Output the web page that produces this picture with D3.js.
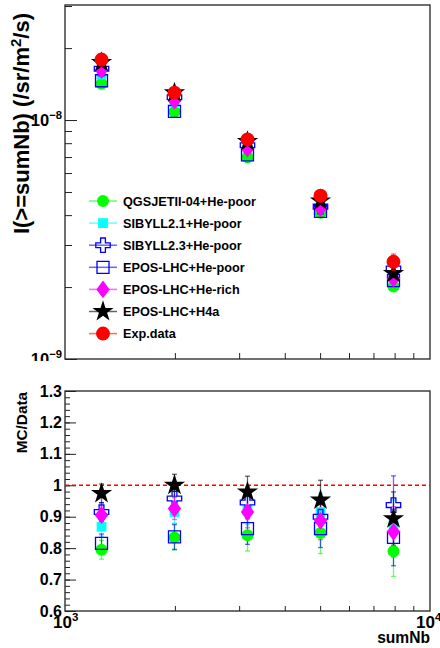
<!DOCTYPE html>
<html>
<head>
<meta charset="utf-8">
<script src="https://cdn.jsdelivr.net/npm/d3@7"></script>
<style>
  body { margin: 0; background: #fff; }
  svg { display: block; font-family: "Liberation Sans", Arial, sans-serif; font-weight: bold; }
</style>
</head>
<body>
<svg id="chart" width="440" height="648"></svg>
<script>
// sumNb bin positions
const xVals = [1259, 1995, 3162, 5012, 7943];

// experimental integral flux
const dataFlux = [1.79e-8, 1.30e-8, 8.3e-9, 4.82e-9, 2.55e-9];
const dataFluxErr = [0.03e-8, 0.03e-8, 0.2e-9, 0.15e-9, 0.2e-9];

// MC series: flux (top) and MC/Data ratio (bottom)
const qgsFlux = [1.42e-8, 1.08e-8, 6.98e-9, 4.09e-9, 2.01e-9];
const qgsRatio = [0.795, 0.834, 0.841, 0.848, 0.79];
const qgsErr = [0.03, 0.04, 0.05, 0.065, 0.08];

const sib21Flux = [1.55e-8, 1.19e-8, 7.64e-9, 4.41e-9, 2.23e-9];
const sib21Ratio = [0.868, 0.915, 0.92, 0.915, 0.873];
const sib21Err = [0.03, 0.035, 0.045, 0.06, 0.08];

const sib23Flux = [1.64e-8, 1.245e-8, 7.84e-9, 4.34e-9, 2.39e-9];
const sib23Ratio = [0.915, 0.958, 0.945, 0.9, 0.937];
const sib23Err = [0.03, 0.035, 0.05, 0.06, 0.093];

const eposPoorFlux = [1.46e-8, 1.087e-8, 7.15e-9, 4.15e-9, 2.13e-9];
const eposPoorRatio = [0.815, 0.836, 0.862, 0.862, 0.834];
const eposPoorErr = [0.03, 0.04, 0.05, 0.06, 0.09];

const eposRichFlux = [1.62e-8, 1.204e-8, 7.59e-9, 4.28e-9, 2.17e-9];
const eposRichRatio = [0.905, 0.926, 0.915, 0.887, 0.852];
const eposRichErr = [0.03, 0.035, 0.05, 0.06, 0.08];

const h4aFlux = [1.743e-8, 1.30e-8, 8.13e-9, 4.59e-9, 2.28e-9];
const h4aRatio = [0.974, 1.0, 0.979, 0.953, 0.894];
const h4aErr = [0.03, 0.035, 0.05, 0.063, 0.085];

const legendLabels = ["QGSJETII-04+He-poor", "SIBYLL2.1+He-poor", "SIBYLL2.3+He-poor",
  "EPOS-LHC+He-poor", "EPOS-LHC+He-rich", "EPOS-LHC+H4a", "Exp.data"];

// ROOT-like filled diamond (wider than d3's)
const diamond = {
  draw(ctx, size) {
    const h = Math.sqrt(size) * 0.95, w = h * 0.75;
    ctx.moveTo(0, -h); ctx.lineTo(w, 0); ctx.lineTo(0, h); ctx.lineTo(-w, 0); ctx.closePath();
  }
};

const series = [
  { name: legendLabels[0], flux: qgsFlux, ratio: qgsRatio, err: qgsErr, color: "#00ff00", type: d3.symbolCircle, size: 113, fill: true },
  { name: legendLabels[1], flux: sib21Flux, ratio: sib21Ratio, err: sib21Err, color: "#00ffff", type: d3.symbolSquare, size: 95, fill: true },
  { name: legendLabels[2], flux: sib23Flux, ratio: sib23Ratio, err: sib23Err, color: "#0000ff", type: d3.symbolCross, size: 115, fill: false },
  { name: legendLabels[3], flux: eposPoorFlux, ratio: eposPoorRatio, err: eposPoorErr, color: "#0000ff", type: d3.symbolSquare, size: 144, fill: false },
  { name: legendLabels[4], flux: eposRichFlux, ratio: eposRichRatio, err: eposRichErr, color: "#ff00ff", type: diamond, size: 88, fill: true },
  { name: legendLabels[5], flux: h4aFlux, ratio: h4aRatio, err: h4aErr, color: "#000000", type: d3.symbolStar, size: 140, fill: true }
];
const dataSeries = { name: legendLabels[6], flux: dataFlux, color: "#ff0000", type: d3.symbolCircle, size: 154, fill: true };

const svg = d3.select("#chart");

const x = d3.scaleLog().domain([1e3, 1e4]).range([65, 430]);
const yTop = d3.scaleLog().domain([1e-9, 3.03e-8]).range([359, 5]);
const yBot = d3.scaleLinear().domain([0.6, 1.3]).range([611, 391]);

svg.append("defs").append("clipPath").attr("id", "topPad")
  .append("rect").attr("x", 0).attr("y", 0).attr("width", 440).attr("height", 361);

const topPad = svg.append("g").attr("clip-path", "url(#topPad)");
const botPad = svg.append("g");

function frame(g, y) {
  g.append("rect")
    .attr("x", x.range()[0]).attr("y", y.range()[1])
    .attr("width", x.range()[1] - x.range()[0])
    .attr("height", y.range()[0] - y.range()[1])
    .attr("fill", "none").attr("stroke", "#222").attr("stroke-width", 1.3);
}

function ticks(g, axis, transform) {
  const a = g.append("g").attr("transform", transform).call(axis);
  a.select(".domain").remove();
  a.selectAll("line").attr("stroke", "#222").attr("stroke-width", 1);
  a.selectAll("text").remove();
}

function logLabel(g, px, py, base, exp, anchor, size) {
  const t = g.append("text").attr("x", px).attr("y", py)
    .attr("text-anchor", anchor).attr("font-size", size);
  t.append("tspan").text(base);
  t.append("tspan").attr("font-size", size * 0.68).attr("dy", -size * 0.42).text(exp);
}

function marker(g, s, px, py) {
  g.append("path")
    .attr("d", d3.symbol().type(s.type).size(s.size)())
    .attr("transform", `translate(${px},${py})`)
    .attr("fill", s.fill ? s.color : "none")
    .attr("stroke", s.color)
    .attr("stroke-width", s.fill ? 0 : 1.3);
}

function errorBar(g, color, px, y0, y1) {
  g.append("line").attr("x1", px).attr("x2", px).attr("y1", y0).attr("y2", y1)
    .attr("stroke", color).attr("stroke-opacity", 0.6).attr("stroke-width", 1.3);
  [y0, y1].forEach(yy => g.append("line")
    .attr("x1", px - 2.5).attr("x2", px + 2.5).attr("y1", yy).attr("y2", yy)
    .attr("stroke", color).attr("stroke-opacity", 0.6).attr("stroke-width", 1.3));
}

// ---------- top pad ----------
const topMinorY = [2e-9, 3e-9, 4e-9, 5e-9, 6e-9, 7e-9, 8e-9, 9e-9, 2e-8, 3e-8];
ticks(topPad, d3.axisLeft(yTop).tickValues(topMinorY).tickSizeInner(-7).tickSizeOuter(0), "translate(65,0)");
ticks(topPad, d3.axisLeft(yTop).tickValues([1e-9, 1e-8]).tickSizeInner(-12).tickSizeOuter(0), "translate(65,0)");
const xMinor = [2e3, 3e3, 4e3, 5e3, 6e3, 7e3, 8e3, 9e3];
ticks(topPad, d3.axisBottom(x).tickValues(xMinor).tickSizeInner(-6).tickSizeOuter(0), "translate(0,359)");
frame(topPad, yTop);

logLabel(topPad, 62, yTop(1e-8) + 6, "10", "\u22128", "end", 16.5);
logLabel(topPad, 62, yTop(1e-9) + 6, "10", "\u22129", "end", 16.5);

const yTitle = topPad.append("text")
  .attr("transform", "translate(29,13) rotate(-90)")
  .attr("text-anchor", "end").attr("font-size", 22);
yTitle.append("tspan").text("I(>=sumNb) (/sr/m");
yTitle.append("tspan").attr("font-size", 15).attr("dy", -8).text("2");
yTitle.append("tspan").attr("dy", 8).text("/s)");

const topMarks = topPad.append("g");
series.forEach(s => {
  s.flux.forEach((v, i) => marker(topMarks, s, x(xVals[i]), yTop(v)));
});
dataSeries.flux.forEach((v, i) => {
  errorBar(topMarks, dataSeries.color, x(xVals[i]), yTop(v + dataFluxErr[i]), yTop(v - dataFluxErr[i]));
  marker(topMarks, dataSeries, x(xVals[i]), yTop(v));
});

// legend
const legend = topPad.append("g");
[...series, dataSeries].forEach((s, i) => {
  const ly = 201 + i * 22.1;
  legend.append("line").attr("x1", 89).attr("x2", 117).attr("y1", ly).attr("y2", ly)
    .attr("stroke", s.color).attr("stroke-opacity", 0.6).attr("stroke-width", 1.5);
  marker(legend, s, 103, ly);
  legend.append("text").attr("x", 123).attr("y", ly + 4.6)
    .attr("font-size", 12.7).text(s.name);
});

// ---------- bottom pad ----------
const botMinorY = d3.range(0.6, 1.3001, 0.02);
const botMajorY = [0.6, 0.7, 0.8, 0.9, 1.0, 1.1, 1.2, 1.3];
ticks(botPad, d3.axisLeft(yBot).tickValues(botMinorY).tickSizeInner(-5).tickSizeOuter(0), "translate(65,0)");
ticks(botPad, d3.axisLeft(yBot).tickValues(botMajorY).tickSizeInner(-11).tickSizeOuter(0), "translate(65,0)");
ticks(botPad, d3.axisBottom(x).tickValues(xMinor).tickSizeInner(-5).tickSizeOuter(0), "translate(0,611)");
frame(botPad, yBot);

botMajorY.forEach(v => {
  botPad.append("text").attr("x", 62).attr("y", yBot(v) + 5.5)
    .attr("text-anchor", "end").attr("font-size", 16)
    .text(v === 1 ? "1" : d3.format(".1f")(v));
});

logLabel(botPad, 53, 628, "10", "3", "start", 17);
logLabel(botPad, 416, 628, "10", "4", "start", 17);

botPad.append("text").attr("x", 430).attr("y", 643)
  .attr("text-anchor", "end").attr("font-size", 15.6).text("sumNb");

botPad.append("text")
  .attr("transform", "translate(26.5,392) rotate(-90)")
  .attr("text-anchor", "end").attr("font-size", 15.3).text("MC/Data");

botPad.append("line")
  .attr("x1", x(1e3)).attr("x2", x(1e4)).attr("y1", yBot(1)).attr("y2", yBot(1))
  .attr("stroke", "#ff0000").attr("stroke-width", 1.5).attr("stroke-dasharray", "4,3");

const botMarks = botPad.append("g");
series.forEach(s => {
  s.ratio.forEach((v, i) => errorBar(botMarks, s.color, x(xVals[i]), yBot(v + s.err[i]), yBot(v - s.err[i])));
});
series.forEach(s => {
  s.ratio.forEach((v, i) => marker(botMarks, s, x(xVals[i]), yBot(v)));
});
</script>
</body>
</html>
